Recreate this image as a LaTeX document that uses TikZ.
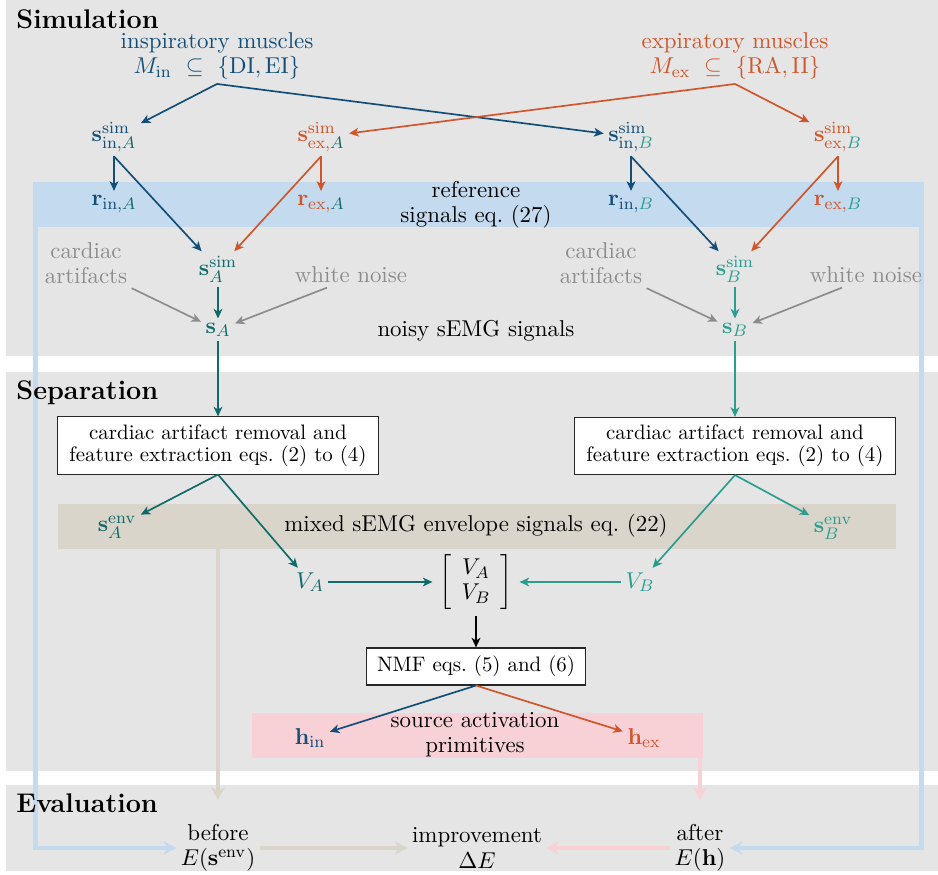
\documentclass[tikz,border=0pt]{standalone}
\usepackage{amsmath}
\usetikzlibrary{arrows.meta,calc}
\definecolor{cin}{HTML}{124E78}
\definecolor{cex}{HTML}{D1552A}
\definecolor{ca}{HTML}{0F6A68}
\definecolor{cb}{HTML}{2A9D8F}
\definecolor{cgray}{HTML}{8C8C8C}
\definecolor{panel}{HTML}{E5E5E5}
\definecolor{bref}{HTML}{C4DAEE}
\definecolor{benv}{HTML}{D9D5CA}
\definecolor{bsrc}{HTML}{F8D1D7}
\pgfdeclarelayer{bgzero}
\pgfdeclarelayer{bgone}
\pgfsetlayers{bgzero,bgone,main}
\begin{document}
\begin{tikzpicture}[x=0.478pt,y=-0.478pt,
  arr/.style={-{Stealth[length=4.6pt,width=4.2pt,inset=1.3pt]}, line width=0.8pt},
  fat/.style={line width=2.2pt, -{Stealth[length=6pt,width=6.5pt,inset=1.8pt]}},
  lbl/.style={inner sep=2pt, align=center, font=\fontsize{10.95}{12}\selectfont},
  procbox/.style={draw=black!85, fill=white, line width=0.5pt, align=center,
    font=\fontsize{10}{10.5}\selectfont},
  title/.style={font=\fontsize{12.9}{15}\selectfont\bfseries, anchor=base west, inner sep=0pt}]
\useasboundingbox (0,0) rectangle (938,875);
\begin{pgfonlayer}{bgzero}
% panels
\fill[panel] (6,0) rectangle (938,356);
\fill[panel] (6,372) rectangle (938,771);
\fill[panel] (6,785) rectangle (938,871);
% bands
\fill[bref] (33,182) rectangle (924,227);
\fill[benv] (58,504) rectangle (896,549);
\fill[bsrc] (252,713) rectangle (703,758);
\end{pgfonlayer}

% titles
\node[title] (tsim) at (16,29) {Simulation};
\node[title] (tsep) at (16,400) {Separation};
\node[title] (teval) at (16,813) {Evaluation};

% simulation
\node[lbl, text=cin] (ins) at (217,56) {inspiratory muscles\\ $M_{\mathrm{in}}\ \subseteq\ \{\mathrm{DI},\mathrm{EI}\}$};
\node[lbl, text=cex] (exp) at (735,56) {expiratory muscles\\ $M_{\mathrm{ex}}\ \subseteq\ \{\mathrm{RA},\mathrm{II}\}$};

\node[lbl, text=cin] (sinA) at (114,137) {$\mathbf{s}^{\mathrm{sim}}_{\mathrm{in},\textcolor{ca}{A}}$};
\node[lbl, text=cex] (sexA) at (321,137) {$\mathbf{s}^{\mathrm{sim}}_{\mathrm{ex},\textcolor{ca}{A}}$};
\node[lbl, text=cin] (sinB) at (631,137) {$\mathbf{s}^{\mathrm{sim}}_{\mathrm{in},\textcolor{cb}{B}}$};
\node[lbl, text=cex] (sexB) at (838,137) {$\mathbf{s}^{\mathrm{sim}}_{\mathrm{ex},\textcolor{cb}{B}}$};

\node[lbl, text=cin] (rinA) at (114,204) {$\mathbf{r}_{\mathrm{in},\textcolor{ca}{A}}$};
\node[lbl, text=cex] (rexA) at (321,204) {$\mathbf{r}_{\mathrm{ex},\textcolor{ca}{A}}$};
\node[lbl, text=cin] (rinB) at (631,204) {$\mathbf{r}_{\mathrm{in},\textcolor{cb}{B}}$};
\node[lbl, text=cex] (rexB) at (838,204) {$\mathbf{r}_{\mathrm{ex},\textcolor{cb}{B}}$};

\node[lbl] (ref) at (476,205) {reference\\signals eq.~(27)};

\node[lbl, text=cgray] (cardA) at (86,263) {cardiac\\artifacts};
\node[lbl, text=ca] (simA) at (218,269) {$\mathbf{s}^{\mathrm{sim}}_A$};
\node[lbl, text=cgray] (wnA) at (351,275) {white noise};
\node[lbl, text=ca] (sA) at (218,330) {$\mathbf{s}_A$};
\node[lbl] (noisy) at (476,331) {noisy sEMG signals};

\node[lbl, text=cgray] (cardB) at (601,263) {cardiac\\artifacts};
\node[lbl, text=cb] (simB) at (735,269) {$\mathbf{s}^{\mathrm{sim}}_B$};
\node[lbl, text=cgray] (wnB) at (866,275) {white noise};
\node[lbl, text=cb] (sB) at (735,330) {$\mathbf{s}_B$};

% separation
\node[procbox, minimum width=153pt, minimum height=27.3pt] (boxA) at (218,445.5)
  {cardiac artifact removal and\\feature extraction eqs.~(2) to (4)};
\node[procbox, minimum width=153pt, minimum height=27.3pt] (boxB) at (735,446)
  {cardiac artifact removal and\\feature extraction eqs.~(2) to (4)};

\node[lbl] (envt) at (476,526) {mixed sEMG envelope signals eq.~(22)};
\node[lbl, text=ca] (senvA) at (117,527) {$\mathbf{s}^{\mathrm{env}}_A$};
\node[lbl, text=cb] (senvB) at (833,528) {$\mathbf{s}^{\mathrm{env}}_B$};

\node[lbl, text=ca] (VA) at (310,582) {$V_A$};
\node[lbl, inner sep=3pt] (mat) at (476,582) {$\left[\begin{array}{c} V_A\\ V_B\end{array}\right]$};
\node[lbl, text=cb] (VB) at (640,582) {$V_B$};

\node[procbox, minimum width=104.7pt, minimum height=17.7pt] (nmf) at (476,666.5) {NMF eqs.~(5) and (6)};

\node[lbl] (src) at (475,735) {source activation\\primitives};
\node[lbl, text=cin] (hin) at (310,738) {$\mathbf{h}_{\mathrm{in}}$};
\node[lbl, text=cex] (hex) at (644,738) {$\mathbf{h}_{\mathrm{ex}}$};

% evaluation
\node[lbl] (before) at (218,848) {before\\$E(\mathbf{s}^{\mathrm{env}})$};
\node[lbl] (impr) at (477,848) {improvement\\$\Delta E$};
\node[lbl] (after) at (700,848) {after\\$E(\mathbf{h})$};

% thick connectors (below the texts)
\coordinate (refL) at (35.3,205);
\coordinate (refR) at (921.7,205);
\coordinate (envD) at (218,540);
\coordinate (srcD) at (700,750);
\begin{pgfonlayer}{bgone}
\draw[fat, bref] (refL) |- (before.west);
\draw[fat, bref] (refR) |- (after.east);
\draw[fat, benv] (envD) -- ($(before.north)+(0,-20)$);
\draw[fat, bsrc] (srcD) -- ($(after.north)+(0,-20)$);
\draw[fat, benv] (before.east) -- (impr.west);
\draw[fat, bsrc] (after.west) -- (impr.east);
\end{pgfonlayer}

% thin connectors
\draw[arr, cin] (ins.south) -- (sinA);
\draw[arr, cin] (ins.south) -- (sinB);
\draw[arr, cex] (exp.south) -- (sexB);
\draw[arr, cex] (exp.south) -- (sexA);

\draw[arr, cin] (sinA.south) -- (rinA.north);
\draw[arr, cin] (sinA.south) -- (simA);
\draw[arr, cex] (sexA.south) -- (rexA.north);
\draw[arr, cex] (sexA.south) -- (simA);
\draw[arr, cin] (sinB.south) -- (rinB.north);
\draw[arr, cin] (sinB.south) -- (simB);
\draw[arr, cex] (sexB.south) -- (rexB.north);
\draw[arr, cex] (sexB.south) -- (simB);

\draw[arr, ca] (simA) -- (sA);
\draw[arr, cgray] (cardA.south east) -- (sA);
\draw[arr, cgray] ($(wnA.south)+(-24,0)$) -- (sA);
\draw[arr, cb] (simB) -- (sB);
\draw[arr, cgray] (cardB.south east) -- (sB);
\draw[arr, cgray] ($(wnB.south)+(-24,0)$) -- (sB);

\draw[arr, ca] (sA) -- (boxA);
\draw[arr, cb] (sB) -- (boxB);
\draw[arr, ca] (boxA.south) -- (senvA);
\draw[arr, ca] (boxA.south) -- (VA);
\draw[arr, cb] (boxB.south) -- (senvB);
\draw[arr, cb] (boxB.south) -- (VB);
\draw[arr, ca] (VA) -- (mat);
\draw[arr, cb] (VB) -- (mat);
\draw[arr, black] (mat) -- (nmf);
\draw[arr, cin] (nmf.south) -- (hin);
\draw[arr, cex] (nmf.south) -- (hex);
\end{tikzpicture}
\end{document}
